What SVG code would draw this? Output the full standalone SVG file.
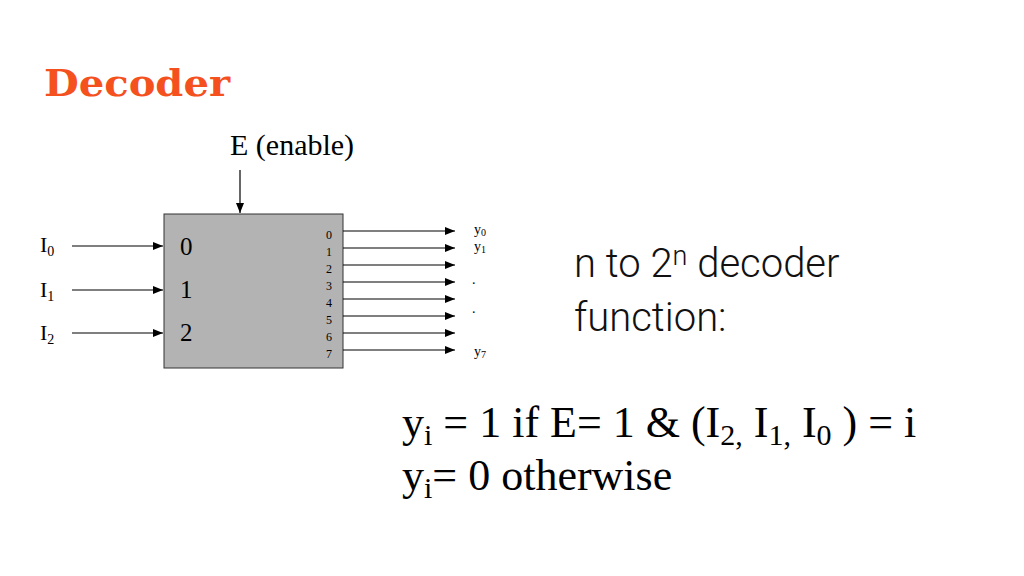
<svg xmlns="http://www.w3.org/2000/svg" width="1024" height="576" viewBox="0 0 1024 576">
<defs><marker id="ah" markerWidth="10" markerHeight="8" refX="10" refY="4" orient="auto" markerUnits="userSpaceOnUse"><path d="M0,0 L10,4 L0,8 Z" fill="#000"/></marker>
<style>.s{font-family:"Liberation Serif",serif;fill:#000}.l{stroke:#000;stroke-width:1.2;marker-end:url(#ah)}</style></defs>
<rect width="1024" height="576" fill="#fff"/>
<text x="44" y="96" font-family="DejaVu Serif,serif" font-weight="900" font-size="37" fill="#f4511e" textLength="186" lengthAdjust="spacingAndGlyphs">Decoder</text>
<g id="decoder"><rect x="164" y="214" width="179" height="154" fill="#b3b3b3" stroke="#333" stroke-width="1"/>
<text class="s" x="180" y="255" font-size="25">0</text><text class="s" x="180" y="298" font-size="25">1</text><text class="s" x="180" y="341" font-size="25">2</text>
<g class="s" font-size="12" text-anchor="middle"><text x="329" y="239">0</text><text x="329" y="256">1</text><text x="329" y="273">2</text><text x="329" y="290">3</text><text x="329" y="307">4</text><text x="329" y="324">5</text><text x="329" y="341">6</text><text x="329" y="358">7</text></g></g>
<g id="labels" class="s"><text x="230" y="155" font-size="30">E (enable)</text>
<text x="40" y="252" font-size="22">I<tspan font-size="14" dy="4">0</tspan></text>
<text x="40" y="297" font-size="22">I<tspan font-size="14" dy="4">1</tspan></text>
<text x="40" y="340" font-size="22">I<tspan font-size="14" dy="4">2</tspan></text>
<text x="474" y="234" font-size="14">y<tspan font-size="10" dy="2">0</tspan></text>
<text x="474" y="251" font-size="14">y<tspan font-size="10" dy="2">1</tspan></text>
<text x="472" y="284" font-size="14">.</text><text x="472" y="313" font-size="14">.</text>
<text x="474" y="356" font-size="14">y<tspan font-size="10" dy="2">7</tspan></text>
<text x="402" y="437" font-size="44">y<tspan font-size="30" dy="8">i</tspan><tspan dy="-8"> = 1 if E= 1 &amp; (I</tspan><tspan font-size="30" dy="8">2,</tspan><tspan dy="-8"> I</tspan><tspan font-size="30" dy="8">1,</tspan><tspan dy="-8"> I</tspan><tspan font-size="30" dy="8">0</tspan><tspan dy="-8"> ) = i</tspan></text>
<text x="402" y="490" font-size="44">y<tspan font-size="30" dy="8">i</tspan><tspan dy="-8">= 0 otherwise</tspan></text></g>
<g id="title2" font-family="Roboto,sans-serif" font-weight="300" font-size="40" fill="#111"><text x="574" y="277">n to 2<tspan font-size="27" dy="-12">n</tspan><tspan dy="12"> decoder</tspan></text><text x="574" y="331">function:</text></g>
<g id="connectors"><line class="l" x1="240" y1="170" x2="240" y2="213"/>
<line class="l" x1="72" y1="246" x2="163" y2="246"/><line class="l" x1="72" y1="290" x2="163" y2="290"/><line class="l" x1="72" y1="333" x2="163" y2="333"/>
<line class="l" x1="343" y1="231" x2="455" y2="231"/><line class="l" x1="343" y1="248" x2="455" y2="248"/><line class="l" x1="343" y1="265" x2="455" y2="265"/><line class="l" x1="343" y1="282" x2="455" y2="282"/><line class="l" x1="343" y1="299" x2="455" y2="299"/><line class="l" x1="343" y1="316" x2="455" y2="316"/><line class="l" x1="343" y1="333" x2="455" y2="333"/><line class="l" x1="343" y1="350" x2="455" y2="350"/></g>
</svg>
